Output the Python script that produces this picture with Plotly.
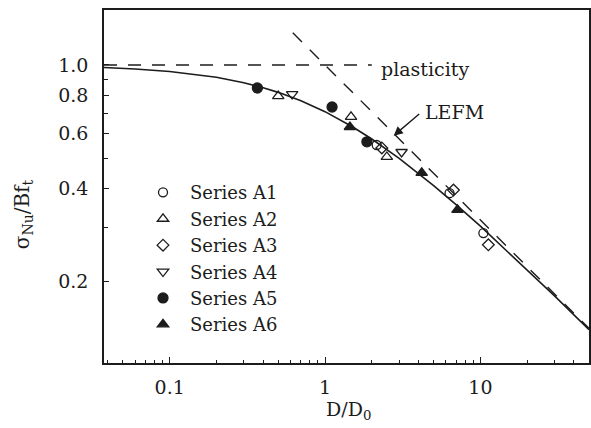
import plotly.graph_objects as go
import numpy as np

# ---------------- data ----------------
series_names = ["Series A1", "Series A2", "Series A3", "Series A4", "Series A5", "Series A6"]
a1_x = [2.15, 6.33, 10.45]
a1_y = [0.552, 0.386, 0.287]
a2_x = [0.50, 1.47, 2.50]
a2_y = [0.794, 0.680, 0.505]
a3_x = [2.32, 6.71, 11.25]
a3_y = [0.540, 0.395, 0.263]
a4_x = [0.614, 3.11]
a4_y = [0.806, 0.524]
a5_x = [0.367, 1.11, 1.86]
a5_y = [0.843, 0.732, 0.565]
a6_x = [1.446, 4.19, 7.12]
a6_y = [0.631, 0.449, 0.341]

curve_x = [0.0378, 0.06, 0.1, 0.15, 0.2, 0.3, 0.4, 0.5, 0.7, 1.0, 1.5, 2.0, 3.0, 5.0, 7.0, 10.0, 15.0, 20.0, 30.0, 50.0]
curve_y = [0.982, 0.971, 0.953, 0.932, 0.913, 0.877, 0.845, 0.816, 0.767, 0.707, 0.632, 0.577, 0.500, 0.408, 0.354, 0.302, 0.250, 0.218, 0.180, 0.140]

plast_x = [0.0378, 2.0]
plast_y = [1.0, 1.0]
lefm_x = [0.62, 50.0]
lefm_y = [1.27, 0.1414]

x_tickvals = [0.1, 1, 10]
x_ticktext = ["0.1", "1", "10"]
y_tickvals = [0.2, 0.4, 0.6, 0.8, 1.0]
y_ticktext = ["0.2", "0.4", "0.6", "0.8", "1.0"]
x_minor = [0.04, 0.05, 0.06, 0.07, 0.08, 0.09, 0.2, 0.3, 0.4, 0.5, 0.6, 0.7, 0.8, 0.9,
           2, 3, 4, 5, 6, 7, 8, 9, 20, 30, 40, 50]
y_minor = [0.3, 0.5, 0.7, 0.9]

FONT = "DejaVu Serif"
INK = "#1c1c1c"

fig = go.Figure()

fig.add_trace(go.Scatter(x=curve_x, y=curve_y, mode="lines", line=dict(color=INK, width=1.6),
                         showlegend=False, hoverinfo="skip"))
fig.add_trace(go.Scatter(x=plast_x, y=plast_y, mode="lines",
                         line=dict(color=INK, width=1.4, dash="13px,11px"),
                         showlegend=False, hoverinfo="skip"))
fig.add_trace(go.Scatter(x=lefm_x, y=lefm_y, mode="lines",
                         line=dict(color=INK, width=1.4, dash="13px,11px"),
                         showlegend=False, hoverinfo="skip"))

sym = ["circle-open", "triangle-up-open", "diamond-open", "triangle-down-open", "circle", "triangle-up"]
sizes = [9, 10, 9, 10, 10, 10]
xs = [a1_x, a2_x, a3_x, a4_x, a5_x, a6_x]
ys = [a1_y, a2_y, a3_y, a4_y, a5_y, a6_y]
for i, name in enumerate(series_names):
    fig.add_trace(go.Scatter(
        x=xs[i], y=ys[i], mode="markers", name=name, legendgroup=name,
        marker=dict(symbol=sym[i], size=sizes[i], color=INK,
                    line=dict(color=INK, width=1.3)),
    ))

fig.update_layout(
    width=591, height=428,
    margin=dict(l=104, r=0, t=10, b=65),
    paper_bgcolor="white", plot_bgcolor="white",
    font=dict(family=FONT, size=18, color=INK),
    showlegend=True,
    legend=dict(x=0.066, y=0.535, xanchor="left", yanchor="top",
                bgcolor="rgba(0,0,0,0)", borderwidth=0,
                font=dict(family=FONT, size=18, color=INK),
                itemwidth=44, tracegroupgap=3.5, traceorder="normal"),
)

fig.update_xaxes(
    type="log", range=[np.log10(0.0378), np.log10(50)],
    showgrid=False, zeroline=False,
    showline=True, linecolor=INK, linewidth=1.5, mirror=True,
    ticks="inside", ticklen=6, tickwidth=1.2, tickcolor=INK,
    tickmode="array", tickvals=x_tickvals, ticktext=x_ticktext,
    tickfont=dict(family=FONT, size=19, color=INK),
    ticklabelstandoff=6,
    minor=dict(tickmode="array", tickvals=x_minor, ticks="inside", ticklen=3,
               tickwidth=1, tickcolor=INK, showgrid=False),
)
fig.update_yaxes(
    type="log", autorange=False, range=[-0.9613, 0.1774],
    showgrid=False, zeroline=False,
    showline=True, linecolor=INK, linewidth=1.5, mirror=True,
    ticks="inside", ticklen=5, tickwidth=1.2, tickcolor=INK,
    tickmode="array", tickvals=y_tickvals, ticktext=y_ticktext,
    tickfont=dict(family=FONT, size=19, color=INK),
    ticklabelstandoff=10,
    minor=dict(tickmode="array", tickvals=y_minor, ticks="inside", ticklen=4,
               tickwidth=1, tickcolor=INK, showgrid=False),
)

# axis titles
fig.add_annotation(text="σ<sub>Nu</sub>/Bf<sub>t</sub>", xref="paper", yref="paper",
                   x=-0.168, y=0.42, xanchor="center", yanchor="middle", textangle=-90,
                   showarrow=False, font=dict(family=FONT, size=20, color=INK))
fig.add_annotation(text="D/D<sub>0</sub>", xref="paper", yref="paper",
                   x=0.505, y=-0.135, xanchor="center", yanchor="middle",
                   showarrow=False, font=dict(family=FONT, size=19, color=INK))

# labels on the plot
fig.add_annotation(text="plasticity", xref="x", yref="y",
                   x=0.346, y=-0.012, xanchor="left", yanchor="middle",
                   showarrow=False, font=dict(family=FONT, size=19, color=INK))
fig.add_annotation(text="LEFM", xref="x", yref="y",
                   x=0.833, y=-0.152, xanchor="center", yanchor="middle",
                   showarrow=False, font=dict(family=FONT, size=19, color=INK))
fig.add_annotation(text="", xref="x", yref="y", x=0.442, y=-0.228,
                   ax=27, ay=-23, showarrow=True, arrowhead=2, arrowsize=1.3,
                   arrowwidth=1.4, arrowcolor=INK)

fig.write_html("out.html", config={"displayModeBar": False},
               post_script="document.body.style.margin='0';")
